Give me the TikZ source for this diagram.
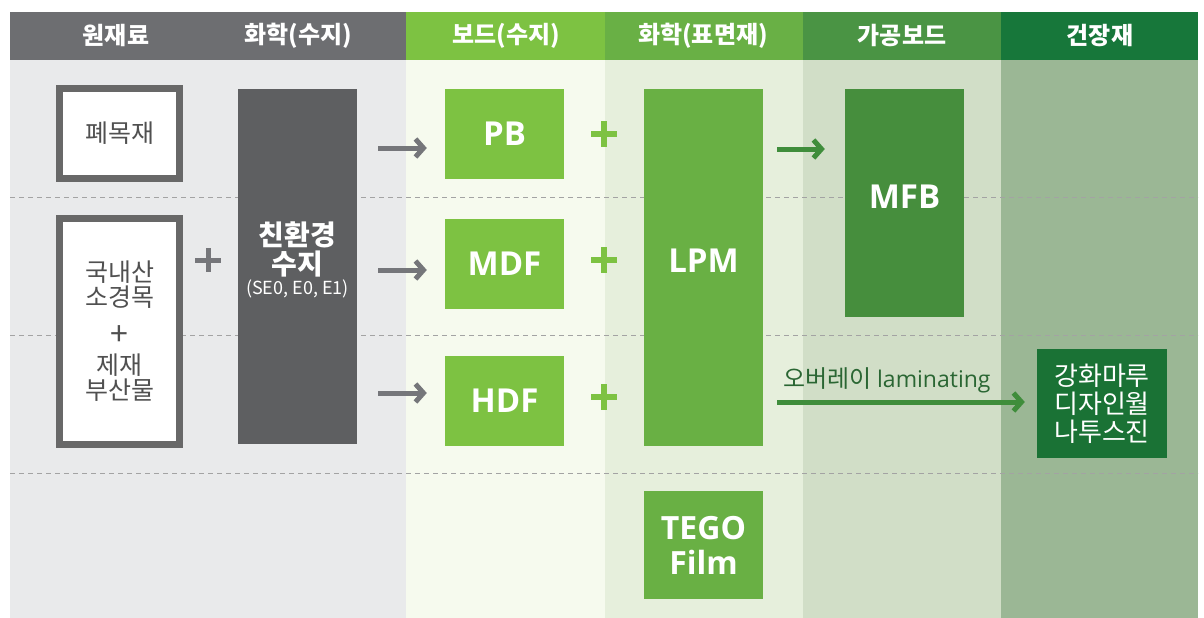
\documentclass[tikz,border=0pt]{standalone}
\usepackage{fontspec}
\setmainfont{Noto Sans CJK KR}
\newfontfamily\latinf{Open Sans}
\usetikzlibrary{arrows.meta}
\definecolor{hdgray}{HTML}{6D6E71}
\definecolor{hdA}{HTML}{7DC242}
\definecolor{hdB}{HTML}{69B045}
\definecolor{hdC}{HTML}{4A9444}
\definecolor{hdD}{HTML}{17773A}
\definecolor{bgA}{HTML}{E9EAEB}
\definecolor{bgB}{HTML}{F6FAEE}
\definecolor{bgC}{HTML}{E6EFDC}
\definecolor{bgD}{HTML}{D1DEC7}
\definecolor{bgE}{HTML}{9BB795}
\definecolor{rawgray}{HTML}{686868}
\definecolor{txtgray}{HTML}{505050}
\definecolor{resingray}{HTML}{5E5F61}
\definecolor{arrgray}{HTML}{75767A}
\definecolor{boardgreen}{HTML}{7DC242}
\definecolor{lpmgreen}{HTML}{69B044}
\definecolor{mfbgreen}{HTML}{468E3D}
\definecolor{prodgreen}{HTML}{1A7235}
\definecolor{arrgreen}{HTML}{3F8D3B}
\definecolor{labgreen}{HTML}{2A6633}
\definecolor{dashgray}{HTML}{A3A3A3}
\begin{document}
\begin{tikzpicture}[x=1pt,y=-1pt,
  hdtext/.style={text=white,font=\fontsize{24}{28}\selectfont\bfseries,inner sep=0pt},
  rawbox/.style={draw=rawgray,line width=7pt,fill=white,inner sep=0pt,align=center,
    text=txtgray,font=\fontsize{25}{25}\selectfont},
  fillbox/.style={inner sep=0pt,minimum width=119pt},
  boxtext/.style={text=white,font=\latinf\fontsize{33}{36}\selectfont\bfseries,inner sep=0pt,align=center},
  garrow/.style={draw=arrgray,line width=5pt,-{Straight Barb[length=8pt,width=18pt]}},
  grarrow/.style={draw=arrgreen,line width=5pt,-{Straight Barb[length=8pt,width=18pt]}},
  divider/.style={draw=dashgray,line width=1pt,dash pattern=on 5pt off 4pt},
  gplus/.style={draw=arrgray,line width=5pt},
  lplus/.style={draw=boardgreen,line width=6pt}
]
\useasboundingbox (0,0) rectangle (1204,618);
\fill[white] (0,0) rectangle (1204,618);
% header
\fill[hdgray] (10,12) rectangle (406,60);
\fill[hdA] (406,12) rectangle (605,60);
\fill[hdB] (605,12) rectangle (803,60);
\fill[hdC] (803,12) rectangle (1001,60);
\fill[hdD] (1001,12) rectangle (1198,60);
% body columns
\fill[bgA] (10,60) rectangle (406,618);
\fill[bgB] (406,60) rectangle (605,618);
\fill[bgC] (605,60) rectangle (803,618);
\fill[bgD] (803,60) rectangle (1001,618);
\fill[bgE] (1001,60) rectangle (1198,618);
% dividers
\draw[divider] (10,197) -- (1198,197);
\draw[divider] (10,335) -- (1198,335);
\draw[divider] (10,473) -- (1198,473);
% header labels
\node[hdtext] (h1) at (116,36) {원재료};
\node[hdtext] (h2) at (298,36) {화학(수지)};
\node[hdtext] (h3) at (506,36) {보드(수지)};
\node[hdtext] (h4) at (703,36) {화학(표면재)};
\node[hdtext] (h5) at (902,36) {가공보드};
\node[hdtext] (h6) at (1100,36) {건장재};
% raw material
\node[rawbox,minimum width=120pt,minimum height=90pt] (waste) at (119.5,133.5) {폐목재};
\node[rawbox,minimum width=120pt,minimum height=226pt] (wood) at (119.5,331.5)
  {국내산\\소경목\\[14pt]{\fontsize{32}{25}\selectfont +}\\[4pt]제재\\부산물};
% plus gray
\draw[gplus] (195,260) -- (221,260);
\draw[gplus] (208,248) -- (208,272);
% resin
\node[fill=resingray,fillbox,minimum height=355pt] (resin) at (297.5,266.5) {};
\node[text=white,inner sep=0pt,align=center,font=\fontsize{28}{29}\selectfont\bfseries] (resintext) at (297.5,249)
  {친환경\\수지};
\node[text=white,inner sep=0pt,font=\fontsize{18}{20}\selectfont] (resinsub) at (297.5,289) {(SE0, E0, E1)};
% boards
\node[fill=boardgreen,fillbox,minimum height=90pt,boxtext] (pb) at (504.5,134) {PB};
\node[fill=boardgreen,fillbox,minimum height=90pt,boxtext] (mdf) at (504.5,264) {MDF};
\node[fill=boardgreen,fillbox,minimum height=90pt,boxtext] (hdf) at (504.5,401) {HDF};
% gray arrows
\draw[garrow] ([xshift=21pt]resin.east |- 0,148) -- ([xshift=-18pt]pb.west |- 0,148);
\draw[garrow] ([xshift=21pt]resin.east |- 0,270) -- ([xshift=-18pt]mdf.west |- 0,270);
\draw[garrow] ([xshift=21pt]resin.east |- 0,393) -- ([xshift=-18pt]hdf.west |- 0,393);
% green plus
\foreach \yy in {134,260,397}{
  \draw[lplus] (591,\yy) -- (617,\yy);
  \draw[lplus] (604,\yy-13) -- (604,\yy+13);
}
% LPM
\node[fill=lpmgreen,fillbox,minimum height=357pt] (lpm) at (703.5,267.5) {};
\node[boxtext] (lpmtext) at (703.5,261) {LPM};
\node[fill=lpmgreen,fillbox,minimum height=108pt,boxtext,font=\latinf\fontsize{32}{35}\selectfont\bfseries] (tego) at (703.5,545) {TEGO\\Film};
% MFB
\node[fill=mfbgreen,fillbox,minimum height=228pt] (mfb) at (904.5,203) {};
\node[boxtext] (mfbtext) at (904.5,197) {MFB};
\draw[grarrow] ([xshift=14pt]lpm.east |- 0,149) -- ([xshift=-20pt]mfb.west |- 0,149);
% product
\node[fill=prodgreen,inner sep=0pt,minimum width=130pt,minimum height=109pt,text=white,align=center,
  font=\fontsize{26}{28}\selectfont] (prod) at (1102,403.5) {강화마루\\디자인월\\나투스진};
\node[text=labgreen,inner sep=0pt,font=\fontsize{24}{26}\selectfont] (lam) at (887,380) {오버레이 {\latinf\fontsize{23}{26}\selectfont laminating}};
\draw[grarrow] ([xshift=14pt]lpm.east |- 0,402) -- ([xshift=-12pt]prod.west |- 0,402);
\end{tikzpicture}
\end{document}
